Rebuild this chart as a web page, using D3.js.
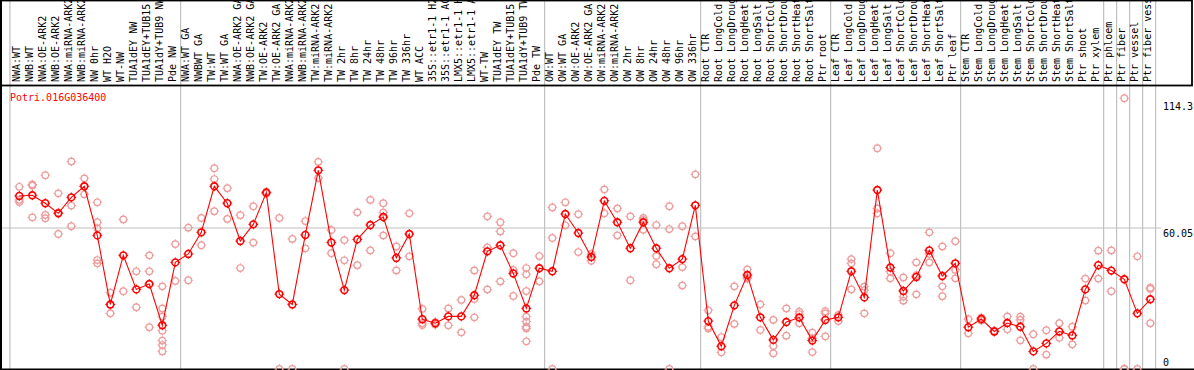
<!DOCTYPE html>
<html>
<head>
<meta charset="utf-8">
<script src="https://cdn.jsdelivr.net/npm/d3@7"></script>
<style>
    body { margin: 0; background: #fff; }
    svg { display: block; font-family: "DejaVu Sans Mono", monospace; font-size: 10px; }
</style>
</head>
<body>
<svg id="chart"></svg>
<script>
// Gene and sample names
let geneName = "Potri.016G036400";
let samples = [
    "NWA:WT", "NWB:WT", "NWA:OE-ARK2", "NWB:OE-ARK2", "NWA:miRNA-ARK2", "NWB:miRNA-ARK2",
    "NW 0hr", "WT H2O", "WT-NW", "TUA1dEY NW", "TUA1dEY+TUB15 NW", "TUA1dY+TUB9 NW", "Pde NW",
    "NWA:WT GA", "NWBWT GA", "TW:WT", "TW:WT GA", "NWA:OE-ARK2 GA", "NWB:OE-ARK2 GA",
    "TW:OE-ARK2", "TW:OE-ARK2 GA", "NWA:miRNA-ARK2 GA", "NWB:miRNA-ARK2 GA", "TW:miRNA-ARK2",
    "TW:miRNA-ARK2 GA", "TW 2hr", "TW 8hr", "TW 24hr", "TW 48hr", "TW 96hr", "TW 336hr",
    "WT ACC", "35S::etr1-1 H2O", "35S::etr1-1 ACC", "LMX5::etr1-1 H2O", "LMX5::etr1-1 ACC",
    "WT-TW", "TUA1dEY TW", "TUA1dEY+TUB15 TW", "TUA1dY+TUB9 TW", "Pde TW",
    "OW:WT", "OW:WT GA", "OW:OE-ARK2", "OW:OE-ARK2 GA", "OW:miRNA-ARK2", "OW:miRNA-ARK2 GA",
    "OW 2hr", "OW 8hr", "OW 24hr", "OW 48hr", "OW 96hr", "OW 336hr",
    "Root CTR", "Root LongCold", "Root LongDrought", "Root LongHeat", "Root LongSalt",
    "Root ShortCold", "Root ShortDrought", "Root ShortHeat", "Root ShortSalt", "Ptr root",
    "Leaf CTR", "Leaf LongCold", "Leaf LongDrought", "Leaf LongHeat", "Leaf LongSalt",
    "Leaf ShortCold", "Leaf ShortDrought", "Leaf ShortHeat", "Leaf ShortSalt", "Ptr leaf",
    "Stem CTR", "Stem LongCold", "Stem LongDrought", "Stem LongHeat", "Stem LongSalt",
    "Stem ShortCold", "Stem ShortDrought", "Stem ShortHeat", "Stem ShortSalt", "Ptr shoot",
    "Ptr xylem", "Ptr phloem", "Ptr fiber", "Ptr vessel", "Ptr fiber vessel"
];

// Mean expression per sample
let means = [
    73.7, 74.0, 70.6, 66.3, 73.1, 77.8, 56.9, 27.5, 48.4, 33.9, 36.2, 18.6, 45.4,
    49.0, 58.2, 77.8, 70.6, 54.5, 61.6, 75.1, 31.9, 27.5, 57.1, 84.6, 53.9, 33.6,
    55.2, 61.3, 64.7, 47.3, 57.5, 21.2, 19.5, 22.4, 22.4, 31.4, 50.1, 52.7, 40.7,
    25.8, 42.9, 41.6, 66.0, 57.9, 47.7, 71.6, 62.5, 51.4, 62.5, 51.4, 42.9, 46.8,
    69.7, 20.4, 9.7, 27.1, 40.0, 22.0, 12.4, 20.0, 21.9, 12.1, 20.9, 22.0, 41.6,
    30.5, 76.2, 43.2, 33.2, 39.2, 50.5, 39.6, 45.0, 17.8, 21.3, 16.0, 19.6, 18.0,
    7.5, 10.9, 16.0, 14.3, 33.9, 44.2, 41.9, 38.2, 23.7, 29.7
];

// Replicate values per sample
let replicates = [
    [77.6, 72.0, 71.1], [78.6, 78.1, 64.6], [82.5, 65.6, 64.2], [74.8, 66.6, 57.5],
    [88.4, 69.6, 60.8], [81.2, 77.8, 74.4], [71.0, 62.5, 59.9, 46.4, 45.0], [32.5, 27.3, 23.7],
    [63.7, 33.1], [41.6, 26.3], [48.4, 41.6, 17.8], [35.2, 25.8, 22.3, 16.3, 12.1, 10.2, 7.5],
    [53.2, 37.5], [60.2, 37.8], [64.3, 52.7], [85.5, 80.9, 67.2], [77.0, 63.9], [65.5, 43.0],
    [69.3, 53.8], [75.5, 74.7], [64.3, 0], [55.4, 0], [63.0, 51.4], [88.2, 81.3], [59.2, 49.3],
    [54.9, 46.3, 0], [66.7, 44.2], [72.0, 50.5], [70.6, 66.7, 56.9], [52.2, 42.0], [66.3, 48.0],
    [25.6, 19.5, 18.7], [20.0, 18.9], [25.8, 18.6], [29.4, 15.6], [42.0, 29.8, 22.0],
    [65.0, 51.8, 33.9], [62.5, 58.6, 37.3], [49.3, 42.2, 31.1],
    [43.0, 40.3, 33.2, 22.3, 20.2, 18.0, 17.3, 11.8], [48.1, 37.3], [68.8, 55.8, 0],
    [71.0, 61.2], [65.9, 49.8], [49.0, 46.1], [76.5, 66.3], [68.4, 56.9], [65.0, 37.8],
    [64.3, 63.5, 59.3], [61.3, 48.1, 44.6], [69.3, 59.6, 0], [60.8, 43.4, 35.6], [82.9, 56.5],
    [25.0, 18.0, 17.3], [13.6, 7.1], [35.2, 19.2], [42.4, 39.0, 38.5], [27.5, 16.6],
    [20.9, 9.8, 6.7], [25.8, 14.2], [24.4, 23.4, 19.5], [15.5, 13.1, 7.2], [24.6, 23.7, 13.9],
    [23.0, 20.4], [46.8, 45.0, 33.9], [35.1, 33.6, 23.7], [94.0, 68.4, 66.3], [49.3, 41.5, 38.6],
    [39.0, 30.8, 29.1], [45.4, 40.0, 31.8], [58.2, 49.0, 45.4], [52.2, 35.2, 31.0],
    [54.4, 42.2, 38.6], [21.2, 15.2], [21.9, 20.7], [16.3, 15.8], [22.4, 16.9],
    [22.3, 20.9, 12.2], [14.8, 0], [16.5, 6.1], [19.5, 13.3], [18.0, 10.5], [38.5, 29.2],
    [50.4, 38.5], [50.5, 33.1], [115.3, 0, 0], [48.0, 0], [34.6, 34.1, 19.5]
];

let yTicks = [0, 60.05, 114.3];
let gridValues = [60.05];
// last sample index of each group, a separator is drawn after it
let groupEnds = [12, 40, 52, 62, 72, 83, 84, 85, 86, 87];

let width = 1194;
let height = 370;
let headerBottom = 85;
let plotBottom = 369;

let svg = d3.select("#chart")
    .attr("width", width)
    .attr("height", height);

let x = d3.scaleLinear()
    .domain([0, samples.length - 1])
    .range([19.3, 1150.3]);
let step = x(1) - x(0);

let y = d3.scaleLinear()
    .domain([0, 114.3])
    .range([plotBottom, 100.6]);

// Vertical separators
let sepX = [x(0) - step * 0.72].concat(groupEnds.map(i => x(i) + step * 0.41));
svg.append("g")
    .selectAll("line")
    .data(sepX)
    .enter().append("line")
    .attr("x1", d => d).attr("x2", d => d)
    .attr("y1", 0).attr("y2", plotBottom)
    .attr("stroke", "#c0c0c0")
    .attr("stroke-width", 1.2);

// Horizontal grid
svg.append("g")
    .selectAll("line")
    .data(gridValues)
    .enter().append("line")
    .attr("x1", 1).attr("x2", 1161)
    .attr("y1", d => y(d)).attr("y2", d => y(d))
    .attr("stroke", "#c0c0c0")
    .attr("stroke-width", 1.2);

// Header frame
svg.append("rect")
    .attr("x", 1).attr("y", 0.5)
    .attr("width", 1191).attr("height", headerBottom)
    .attr("fill", "none")
    .attr("stroke", "#000")
    .attr("stroke-width", 1.8);
svg.append("line")
    .attr("x1", 1).attr("x2", 1).attr("y1", 0).attr("y2", height)
    .attr("stroke", "#000").attr("stroke-width", 2);
svg.append("line")
    .attr("x1", 0).attr("x2", width).attr("y1", plotBottom + 0.5).attr("y2", plotBottom + 0.5)
    .attr("stroke", "#000").attr("stroke-width", 2);

// Sample labels, clipped to header
svg.append("clipPath").attr("id", "hdr")
    .append("rect").attr("x", 0).attr("y", 0).attr("width", width).attr("height", headerBottom - 1);

svg.append("g")
    .attr("clip-path", "url(#hdr)")
    .selectAll("text")
    .data(samples)
    .enter().append("text")
    .attr("transform", (d, i) => `translate(${x(i) + 0.8},82) rotate(-90)`)
    .attr("fill", "#000")
    .text(d => d);

// Gene name
svg.append("text")
    .attr("x", 10).attr("y", 101)
    .attr("fill", "#ff0000")
    .text(geneName);

// Right axis labels
svg.append("g")
    .selectAll("text")
    .data(yTicks)
    .enter().append("text")
    .attr("x", 1163)
    .attr("y", d => d === 0 ? y(d) - 3 : y(d) + 9)
    .attr("fill", "#000")
    .text(d => d);

// Marker: ring with four small ticks
function marker(sel, r, color, sw) {
    sel.append("circle")
        .attr("r", r)
        .attr("fill", "none")
        .attr("stroke", color)
        .attr("stroke-width", sw);
    sel.append("path")
        .attr("d", `M0,${-r - 1.5}V${-r + 0.5}M0,${r - 0.5}V${r + 1.5}M${-r - 1.5},0H${-r + 0.5}M${r - 0.5},0H${r + 1.5}`)
        .attr("stroke", color)
        .attr("stroke-width", 1);
}

// Replicates
let repPoints = [];
replicates.forEach((vals, i) => vals.forEach(v => repPoints.push({ i: i, v: v })));
svg.append("g")
    .selectAll("g")
    .data(repPoints)
    .enter().append("g")
    .attr("transform", d => `translate(${x(d.i)},${y(d.v)})`)
    .call(marker, 3.3, "#ee9c9c", 1.2);

// Mean line
let line = d3.line()
    .x((d, i) => x(i))
    .y(d => y(d));
svg.append("path")
    .datum(means)
    .attr("d", line)
    .attr("fill", "none")
    .attr("stroke", "#ff0000")
    .attr("stroke-width", 1.1);

svg.append("g")
    .selectAll("g")
    .data(means)
    .enter().append("g")
    .attr("transform", (d, i) => `translate(${x(i)},${y(d)})`)
    .call(marker, 3.4, "#ff0000", 1.6);
</script>
</body>
</html>
